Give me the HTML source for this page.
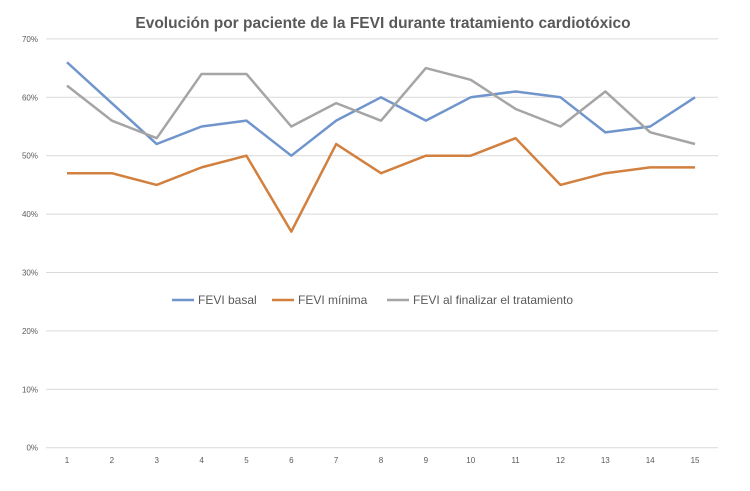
<!DOCTYPE html>
<html><head><meta charset="utf-8"><style>
body{margin:0;background:#fff;}
svg{display:block;font-family:"Liberation Sans",sans-serif;}
</style></head><body>
<svg id="chart" width="750" height="491">
<text x="383" y="28" text-anchor="middle" font-size="15.5" font-weight="bold" fill="#595959">Evolución por paciente de la FEVI durante tratamiento cardiotóxico</text>
<g id="grid"></g><g id="series"></g>
<g font-size="12" fill="#595959">
<line x1="172" y1="300" x2="194" y2="300" stroke="#6f95cc" stroke-width="2.5"/><text x="198" y="304">FEVI basal</text>
<line x1="272" y1="300" x2="294" y2="300" stroke="#d2803f" stroke-width="2.5"/><text x="298" y="304">FEVI mínima</text>
<line x1="387" y1="300" x2="409" y2="300" stroke="#a5a5a5" stroke-width="2.5"/><text x="413" y="304">FEVI al finalizar el tratamiento</text>
</g>
</svg>
<script>
const categories=[1,2,3,4,5,6,7,8,9,10,11,12,13,14,15];
const basal=[66,59,52,55,56,50,56,60,56,60,61,60,54,55,60];
const minima=[47,47,45,48,50,37,52,47,50,50,53,45,47,48,48];
const finalT=[62,56,53,64,64,55,59,56,65,63,58,55,61,54,52];
const yTicks=[0,10,20,30,40,50,60,70];
const NS="http://www.w3.org/2000/svg";
const y=v=>447.7-v*5.84;
const x=i=>67+i*44.86;
const grid=document.getElementById('grid'),ser=document.getElementById('series');
yTicks.forEach(t=>{
 const l=document.createElementNS(NS,'line');
 l.setAttribute('x1',46);l.setAttribute('x2',718);l.setAttribute('y1',y(t));l.setAttribute('y2',y(t));
 l.setAttribute('stroke','#d9d9d9');l.setAttribute('stroke-width','1');
 
 
 grid.appendChild(l);
 const tx=document.createElementNS(NS,'text');
 tx.setAttribute('x',38);tx.setAttribute('y',y(t)+3);tx.setAttribute('text-anchor','end');
 tx.setAttribute('font-size','8');tx.setAttribute('fill','#595959');tx.textContent=t+'%';
 
 
 grid.appendChild(tx);
});
categories.forEach((c,i)=>{
 const tx=document.createElementNS(NS,'text');
 tx.setAttribute('x',x(i));tx.setAttribute('y',463);tx.setAttribute('text-anchor','middle');
 tx.setAttribute('font-size','8');tx.setAttribute('fill','#595959');tx.textContent=c;
 
 
 grid.appendChild(tx);
});
[[basal,'#6f95cc','line-fevi-basal'],[minima,'#d2803f','line-fevi-minima'],[finalT,'#a5a5a5','line-fevi-final']].forEach(([d,c,n])=>{
 const p=document.createElementNS(NS,'polyline');
 p.setAttribute('points',d.map((v,i)=>x(i)+','+y(v)).join(' '));
 p.setAttribute('fill','none');p.setAttribute('stroke',c);p.setAttribute('stroke-width','2.5');p.setAttribute('stroke-linejoin','round');
 
 
 ser.appendChild(p);
});
</script>
</body></html>
